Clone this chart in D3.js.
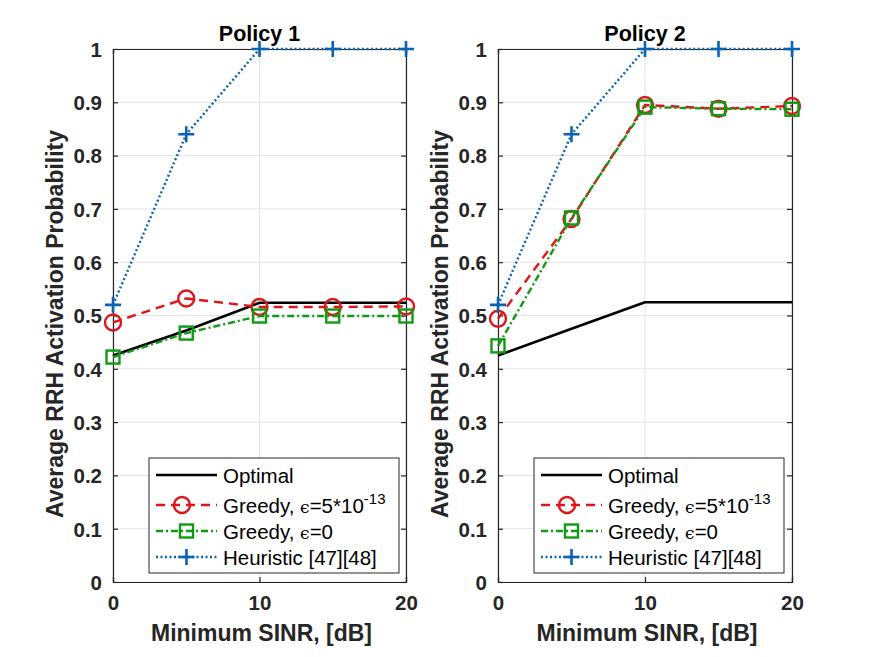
<!DOCTYPE html>
<html><head><meta charset="utf-8">
<script src="https://cdn.jsdelivr.net/npm/d3@7"></script>
<style>body{margin:0;background:#fff}svg{font-family:"Liberation Sans",Arial,Helvetica,sans-serif}</style>
</head><body><svg id="c" width="875" height="657"></svg>
<script>
const xValues = [0, 5, 10, 15, 20];
const xTicks = [0, 10, 20];
const yTicks = [0, 0.1, 0.2, 0.3, 0.4, 0.5, 0.6, 0.7, 0.8, 0.9, 1];
const titles = ["Policy 1", "Policy 2"];
const xLabel = "Minimum SINR, [dB]";
const yLabel = "Average RRH Activation Probability";
const seriesNames = ["Optimal", "Greedy", "Greedy", "Heuristic [47][48]"];
// Policy 1
const p1Optimal   = [0.425, 0.472, 0.524, 0.524, 0.524];
const p1GreedyEps = [0.487, 0.532, 0.516, 0.516, 0.517];
const p1Greedy0   = [0.422, 0.467, 0.499, 0.499, 0.499];
const p1Heuristic = [0.520, 0.840, 1.000, 1.000, 1.000];
// Policy 2
const p2Optimal   = [0.425, 0.475, 0.525, 0.525, 0.525];
const p2GreedyEps = [0.494, 0.681, 0.895, 0.888, 0.893];
const p2Greedy0   = [0.443, 0.683, 0.891, 0.888, 0.887];
const p2Heuristic = [0.520, 0.840, 1.000, 1.000, 1.000];

const styles = [
  {color:"#000000", dash:null, marker:null, width:2.6},
  {color:"#e0151c", dash:"9,6", marker:"circle", width:2.4},
  {color:"#0f9a12", dash:"7,3,2,3", marker:"square", width:2.4},
  {color:"#0b62b3", dash:"2,2.5", marker:"plus", width:2.4}
];

const panels = [
  {left:113, right:406, data:[p1Optimal,p1GreedyEps,p1Greedy0,p1Heuristic], title:titles[0]},
  {left:498, right:792, data:[p2Optimal,p2GreedyEps,p2Greedy0,p2Heuristic], title:titles[1]}
];
const plotTop = 49, plotBottom = 582;
const svg = d3.select("#c");
const axisCol = "#262626";

function drawMarker(g, type, cx, cy, color){
  if(type==="circle"){
    g.append("circle").attr("cx",cx).attr("cy",cy).attr("r",8).attr("fill","none").attr("stroke",color).attr("stroke-width",2.4);
  } else if(type==="square"){
    g.append("rect").attr("x",cx-6.5).attr("y",cy-6.5).attr("width",13).attr("height",13).attr("fill","none").attr("stroke",color).attr("stroke-width",2.4);
  } else if(type==="plus"){
    g.append("path").attr("d",`M${cx-8},${cy}H${cx+8}M${cx},${cy-8}V${cy+8}`).attr("stroke",color).attr("stroke-width",2.6).attr("fill","none");
  }
}

panels.forEach((p, pi) => {
  const x = d3.scaleLinear().domain([0,20]).range([p.left,p.right]);
  const y = d3.scaleLinear().domain([0,1]).range([plotBottom,plotTop]);
  const g = svg.append("g");
  g.append("g").selectAll("line").data(yTicks).join("line")
    .attr("x1",p.left).attr("x2",p.right).attr("y1",d=>y(d)).attr("y2",d=>y(d))
    .attr("stroke","#e3e3e3").attr("stroke-width",1);
  g.append("g").selectAll("line").data(xTicks).join("line")
    .attr("x1",d=>x(d)).attr("x2",d=>x(d)).attr("y1",plotTop).attr("y2",plotBottom)
    .attr("stroke","#e3e3e3").attr("stroke-width",1);
  const ax = g.append("g").attr("transform",`translate(0,${plotBottom})`)
    .call(d3.axisBottom(x).tickValues(xTicks).tickSize(-5).tickPadding(13).tickFormat(d3.format("d")));
  const ay = g.append("g").attr("transform",`translate(${p.left},0)`)
    .call(d3.axisLeft(y).tickValues(yTicks).tickSize(-5).tickPadding(11).tickFormat(d=>d===0?"0":d===1?"1":d3.format(".1f")(d)));
  const axT = g.append("g").attr("transform",`translate(0,${plotTop})`)
    .call(d3.axisTop(x).tickValues(xTicks).tickSize(-5).tickFormat(""));
  const ayR = g.append("g").attr("transform",`translate(${p.right},0)`)
    .call(d3.axisRight(y).tickValues(yTicks).tickSize(-5).tickFormat(""));
  [ax,ay,axT,ayR].forEach(a=>{
    a.selectAll("path").attr("stroke",axisCol).attr("stroke-width",1.2);
    a.selectAll("line").attr("stroke",axisCol).attr("stroke-width",1.2);
    a.selectAll("text").attr("fill",axisCol).attr("font-size",20.5).attr("font-weight","bold")
      .attr("font-family","'Liberation Sans',Arial,sans-serif");
  });
  ay.selectAll("text").attr("dy","0.36em");
  ax.selectAll("text").attr("dy","0.71em");
  p.data.forEach((vals, si) => {
    const st = styles[si];
    const line = d3.line().x((d,i)=>x(xValues[i])).y(d=>y(d));
    g.append("path").datum(vals).attr("d",line).attr("fill","none")
      .attr("stroke",st.color).attr("stroke-width",st.width)
      .attr("stroke-dasharray",st.dash).attr("stroke-linejoin","round");
    if(st.marker) vals.forEach((v,i)=>drawMarker(g, st.marker, x(xValues[i]), y(v), st.color));
  });
  g.append("text").attr("x",(p.left+p.right)/2).attr("y",41).attr("text-anchor","middle")
    .attr("font-size",21.5).attr("font-weight","bold").attr("fill","#000").text(p.title);
  g.append("text").attr("x",(p.left+p.right)/2+2).attr("y",641).attr("text-anchor","middle")
    .attr("font-size",23).attr("font-weight","bold").attr("fill",axisCol).text(xLabel);
  g.append("text").attr("transform",`translate(${p.left-50},324) rotate(-90)`)
    .attr("text-anchor","middle").attr("font-size",23).attr("font-weight","bold").attr("fill",axisCol).text(yLabel);
  const lx = p.left + 36, ly = 458, lw = 250, lh = 115;
  const lg = g.append("g");
  lg.append("rect").attr("x",lx).attr("y",ly).attr("width",lw).attr("height",lh)
    .attr("fill","#fff").attr("stroke",axisCol).attr("stroke-width",1);
  const rowsY = [475, 505, 531, 557];
  styles.forEach((st, si) => {
    const ry = rowsY[si];
    lg.append("path").attr("d",`M${lx+7},${ry}H${lx+68}`).attr("stroke",st.color)
      .attr("stroke-width",st.width).attr("stroke-dasharray",st.dash).attr("fill","none");
    if(st.marker) drawMarker(lg, st.marker, lx + (st.marker==="circle"?33:37.5), ry, st.color);
    const t = lg.append("text").attr("x",lx+74).attr("y",ry+7.5).attr("font-size",20.5).attr("fill","#000");
    if(si===1){
      t.append("tspan").text(seriesNames[si]+", ");
      t.append("tspan").attr("font-family","'DejaVu Serif',serif").attr("font-size",17).text("\u03f5");
      t.append("tspan").text("=5*10");
      t.append("tspan").attr("font-size",15).attr("dy",-9).text("-13");
    } else if(si===2){
      t.append("tspan").text(seriesNames[si]+", ");
      t.append("tspan").attr("font-family","'DejaVu Serif',serif").attr("font-size",17).text("\u03f5");
      t.append("tspan").text("=0");
    } else {
      t.text(seriesNames[si]);
    }
  });
});
</script></body></html>
